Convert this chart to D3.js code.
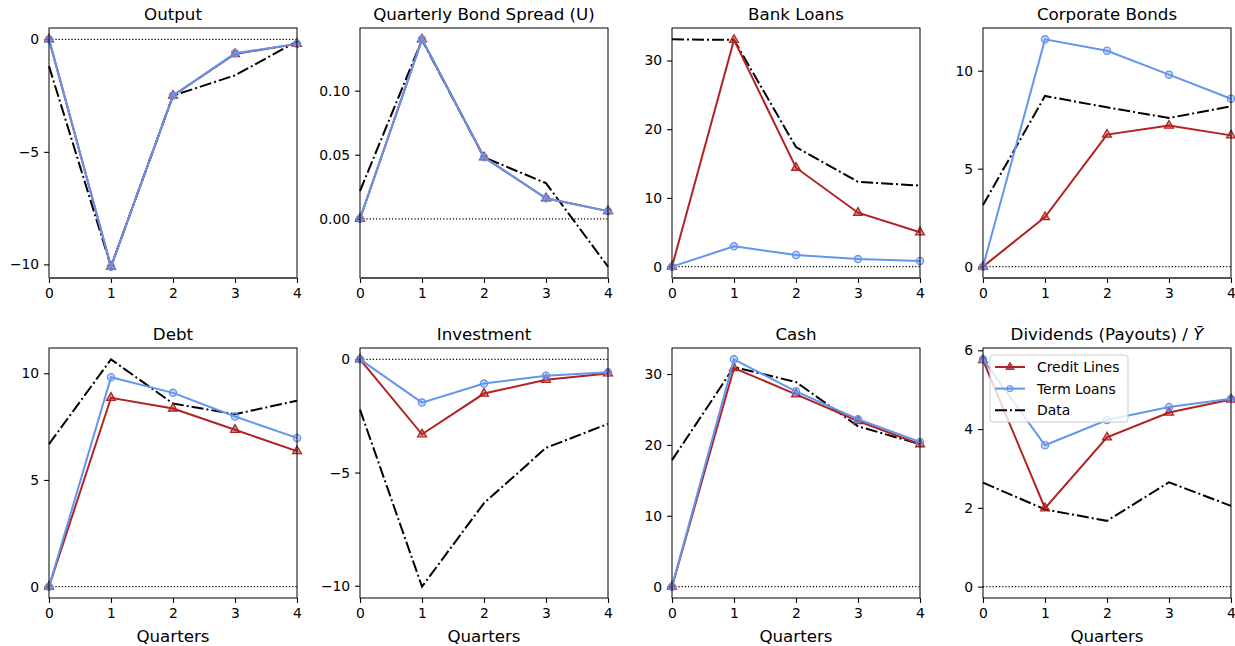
<!DOCTYPE html>
<html>
<head>
<meta charset="utf-8">
<script src="https://cdn.jsdelivr.net/npm/d3@7"></script>
<style>
    body { margin: 0; background: #fff; font-family: "DejaVu Sans", sans-serif; }
    svg text { fill: #000; }
</style>
</head>
<body>
<div id="chart"></div>
<script>
const quarters = [0, 1, 2, 3, 4]
const titles = ['Output', 'Quarterly Bond Spread (U)', 'Bank Loans', 'Corporate Bonds',
    'Debt', 'Investment', 'Cash', 'Dividends (Payouts) / ']
const creditLines = [
    [0, -10.1, -2.5, -0.65, -0.2],
    [0, 0.140, 0.048, 0.016, 0.006],
    [0, 33.0, 14.4, 7.85, 5.0],
    [0, 2.53, 6.74, 7.2, 6.7],
    [0, 8.85, 8.35, 7.35, 6.35],
    [0, -3.31, -1.51, -0.9, -0.62],
    [0, 30.85, 27.14, 23.38, 20.1],
    [5.75, 1.99, 3.79, 4.42, 4.75]
]
const termLoans = [
    [0, -10.1, -2.5, -0.62, -0.2],
    [0, 0.140, 0.048, 0.016, 0.006],
    [0, 2.95, 1.69, 1.1, 0.82],
    [0, 11.6, 11.02, 9.8, 8.57],
    [0, 9.81, 9.08, 7.97, 6.97],
    [0, -1.91, -1.07, -0.72, -0.57],
    [0, 32.07, 27.56, 23.62, 20.42],
    [5.77, 3.59, 4.23, 4.56, 4.77]
]
const dataSeries = [
    [-1.19, -10.1, -2.5, -1.6, -0.09],
    [0.0217, 0.1395, 0.048, 0.0278, -0.0373],
    [33.08, 33.0, 17.4, 12.35, 11.8],
    [3.14, 8.71, 8.13, 7.59, 8.18],
    [6.68, 10.65, 8.58, 8.08, 8.71],
    [-2.22, -10.04, -6.35, -3.91, -2.85],
    [17.85, 30.99, 28.87, 22.63, 20.1],
    [2.64, 1.96, 1.67, 2.65, 2.05]
]
const yTicks = [
    [0, -5, -10],
    [0, 0.05, 0.10],
    [0, 10, 20, 30],
    [0, 5, 10],
    [0, 5, 10],
    [0, -5, -10],
    [0, 10, 20, 30],
    [0, 2, 4, 6]
]
const legendLabels = ['Credit Lines', 'Term Loans', 'Data']

const red = '#b22222'
const blue = '#6495ed'
const colX = [49, 360, 672, 983]
const rowY = [28, 348]
const w = 248
const h = 250
const tick = 4.9
const lw = 2
const dashDot = '12,3,2,3'

const svg = d3.select('#chart').append('svg')
    .attr('width', 1235).attr('height', 646)

titles.forEach((title, i) => {
    const col = i % 4
    const row = Math.floor(i / 4)
    const g = svg.append('g')
        .attr('transform', `translate(${colX[col]},${rowY[row]})`)

    const all = creditLines[i].concat(termLoans[i], dataSeries[i], [0])
    const [lo, hi] = d3.extent(all)
    const pad = (hi - lo) * 0.05
    const x = d3.scaleLinear().domain([0, 4]).range([0, w])
    const y = d3.scaleLinear().domain([lo - pad, hi + pad]).range([h, 0])

    const fmt = i == 1 ? d3.format('.2f') : d3.format('d')

    const xAxis = g.append('g').attr('transform', `translate(0,${h})`)
        .call(d3.axisBottom(x).tickValues(quarters).tickSize(tick).tickPadding(4.9).tickFormat(d3.format('d')))
    const yAxis = g.append('g')
        .call(d3.axisLeft(y).tickValues(yTicks[i]).tickSize(tick).tickPadding(4.9).tickFormat(fmt))
    for (const ax of [xAxis, yAxis]) {
        ax.select('.domain').remove()
        ax.selectAll('text').attr('font-size', 13.9).attr('font-family', '"DejaVu Sans", sans-serif')
        ax.selectAll('line').attr('stroke', '#000').attr('stroke-width', 1.1)
    }

    // zero line
    g.append('line')
        .attr('x1', 0).attr('x2', w)
        .attr('y1', y(0)).attr('y2', y(0))
        .attr('stroke', '#000').attr('stroke-width', 1.2)
        .attr('stroke-dasharray', '1.2,2')

    const line = d3.line().x((d, k) => x(quarters[k])).y(d => y(d))

    g.append('path').datum(dataSeries[i])
        .attr('d', line).attr('fill', 'none')
        .attr('stroke', '#000').attr('stroke-width', lw)
        .attr('stroke-dasharray', dashDot)

    g.append('path').datum(creditLines[i])
        .attr('d', line).attr('fill', 'none')
        .attr('stroke', red).attr('stroke-width', lw)
    g.selectAll('.tri').data(creditLines[i]).join('path')
        .attr('class', 'tri')
        .attr('d', d3.symbol(d3.symbolTriangle, 34))
        .attr('transform', (d, k) => `translate(${x(quarters[k])},${y(d)})`)
        .attr('fill', red).attr('fill-opacity', 0.45)
        .attr('stroke', red).attr('stroke-width', 1.3)

    g.append('path').datum(termLoans[i])
        .attr('d', line).attr('fill', 'none')
        .attr('stroke', blue).attr('stroke-width', lw)
    g.selectAll('.dot').data(termLoans[i]).join('circle')
        .attr('class', 'dot')
        .attr('cx', (d, k) => x(quarters[k])).attr('cy', d => y(d))
        .attr('r', 3.6)
        .attr('fill', blue).attr('fill-opacity', 0.35)
        .attr('stroke', blue).attr('stroke-width', 1.3)

    // frame
    g.append('rect')
        .attr('width', w).attr('height', h)
        .attr('fill', 'none').attr('stroke', '#000').attr('stroke-width', 1)
    if (row == 0) {
        g.append('line').attr('x1', 0).attr('x2', w).attr('y1', h).attr('y2', h)
            .attr('stroke', '#555').attr('stroke-width', 2)
    }

    const t = g.append('text')
        .attr('x', w / 2).attr('y', -8.3)
        .attr('text-anchor', 'middle').attr('font-size', 16.7)
        .text(title)
    if (i == 7) t.append('tspan').attr('font-style', 'italic').text('\u0232')

    if (row == 1) {
        g.append('text')
            .attr('x', w / 2).attr('y', h + 44)
            .attr('text-anchor', 'middle').attr('font-size', 16.7)
            .text('Quarters')
    }

    if (i == 7) {
        const lg = g.append('g').attr('transform', 'translate(7,7)')
        lg.append('rect')
            .attr('width', 138).attr('height', 67).attr('rx', 3)
            .attr('fill', '#fff').attr('fill-opacity', 0.8)
            .attr('stroke', '#ccc').attr('stroke-width', 1)
        legendLabels.forEach((label, k) => {
            const ly = 12 + k * 21.6
            const item = lg.append('g').attr('transform', `translate(0,${ly})`)
            const color = k == 0 ? red : k == 1 ? blue : '#000'
            item.append('line')
                .attr('x1', 5).attr('x2', 35).attr('y1', 0).attr('y2', 0)
                .attr('stroke', color).attr('stroke-width', lw)
                .attr('stroke-dasharray', k == 2 ? dashDot : null)
            if (k == 0) {
                item.append('path').attr('d', d3.symbol(d3.symbolTriangle, 30))
                    .attr('transform', 'translate(20,0)')
                    .attr('fill', red).attr('fill-opacity', 0.8).attr('stroke', red)
            }
            if (k == 1) {
                item.append('circle').attr('cx', 20).attr('r', 3.2)
                    .attr('fill', blue).attr('fill-opacity', 0.4).attr('stroke', blue)
            }
            item.append('text')
                .attr('x', 47).attr('y', 5)
                .attr('font-size', 13.9)
                .text(label)
        })
    }
})
</script>
</body>
</html>
